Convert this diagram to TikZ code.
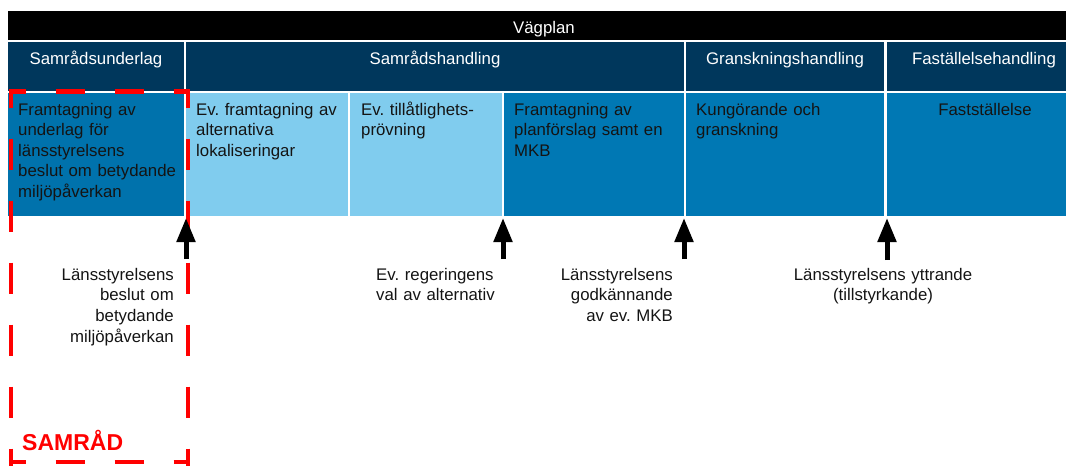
\documentclass[tikz,border=0pt]{standalone}
\usepackage{fontspec}
\setmainfont{Liberation Sans}
\usetikzlibrary{arrows.meta}
\definecolor{navy}{HTML}{00375C}
\definecolor{midblue}{HTML}{0078B4}
\definecolor{darkcell}{HTML}{0072AC}
\definecolor{lightblue}{HTML}{80CCEE}
\definecolor{txt}{HTML}{141414}
\definecolor{samred}{HTML}{FF0000}
\newcommand\blk[6]{\node[box, fill=#6, minimum width={(#4-#2)*1pt}, minimum height={(#5-#3)*1pt}] (#1) at (#2,#3) {};}
\begin{document}
\frenchspacing
\begin{tikzpicture}[x=1pt,y=-1pt,
  box/.style={anchor=north west, inner sep=0pt, outer sep=0pt, draw=none},
  celltext/.style={anchor=base west, inner sep=0pt, text width=#1, align=left, font=\fontsize{16.8}{20.5}\selectfont\frenchspacing, text=txt},
  headtext/.style={anchor=base, inner sep=0pt, text=white, font=\fontsize{16.8}{20.5}\selectfont},
  labtext/.style={inner sep=0pt, text=txt, font=\fontsize{16.8}{20.7}\selectfont\frenchspacing},
  reddash/.style={draw=samred, line width=4.5pt},
  hdash/.style={dash pattern=on 29.5pt off 29.5pt, dash phase=12.25pt},
  vdash/.style={dash pattern=on 31pt off 31pt, dash phase=12.75pt},
  uparrow/.style={line width=5pt, -{Triangle[length=24pt,width=18pt]}}
]
\useasboundingbox (0,0) rectangle (1066,466);
\clip (0,0) rectangle (1066,466);
% top bar
\blk{bar}{8}{11}{1082}{40}{black}
% headers
\blk{h1}{8}{42}{184}{91}{navy}
\blk{h2}{186}{42}{684}{91}{navy}
\blk{h3}{686}{42}{884}{91}{navy}
\blk{h4}{887}{42}{1082}{91}{navy}
% cells
\blk{c1}{8}{93}{184}{216}{darkcell}
\blk{c2}{186}{93}{348}{216}{lightblue}
\blk{c3}{350}{93}{502}{216}{lightblue}
\blk{c4}{504}{93}{684}{216}{midblue}
\blk{c5}{686}{93}{884}{216}{midblue}
\blk{c6}{887}{93}{1082}{216}{midblue}
% header texts
\node[headtext] (vag) at (544,33) {Vägplan};
\node[headtext] (ht1) at (96,64) {Samrådsunderlag};
\node[headtext] (ht2) at (435,64) {Samrådshandling};
\node[headtext] (ht3) at (785,64) {Granskningshandling};
\node[headtext] (ht4) at (984,64) {Faställelsehandling};
% cell texts
\node[celltext=166pt] (t1) at (18,115) {Framtagning av\\underlag för\\länsstyrelsens\\beslut om betydande\\miljöpåverkan};
\node[celltext=150pt] (t2) at (196,115) {Ev. framtagning av\\alternativa\\lokaliseringar};
\node[celltext=140pt] (t3) at (361,115) {Ev. tillåtlighets-\\prövning};
\node[celltext=170pt] (t4) at (514,115) {Framtagning av\\planförslag samt en\\MKB};
\node[celltext=180pt] (t5) at (696,115) {Kungörande och\\granskning};
\node[anchor=base, inner sep=0pt, text=txt, font=\fontsize{16.8}{20.5}\selectfont] (t6) at (985,115) {Fastställelse};
% red dashed frame
\draw[reddash, hdash] (8.75,91.5) -- (190.25,91.5);
\draw[reddash, hdash] (8.75,462) -- (190.25,462);
\draw[reddash, vdash] (11,89.25) -- (11,470);
\draw[reddash, vdash] (188,89.25) -- (188,470);
% arrows
\coordinate (a1t) at (186,218); \coordinate (a1s) at (186,259);
\coordinate (a2t) at (503,218); \coordinate (a2s) at (503,259);
\coordinate (a3t) at (684,218); \coordinate (a3s) at (684,259);
\coordinate (a4t) at (887,218); \coordinate (a4s) at (887,260);
\draw[uparrow] (a1s) -- (a1t);
\draw[uparrow] (a2s) -- (a2t);
\draw[uparrow] (a3s) -- (a3t);
\draw[uparrow] (a4s) -- (a4t);
% labels
\node[labtext, anchor=base east, text width=150pt, align=right] (l1) at (174,280) {Länsstyrelsens\\beslut om\\betydande\\miljöpåverkan};
\node[labtext, anchor=base west, text width=150pt, align=left] (l2) at (376,280) {Ev. regeringens\\val av alternativ};
\node[labtext, anchor=base east, text width=150pt, align=right] (l3) at (673,280) {Länsstyrelsens\\godkännande\\av ev. MKB};
\node[labtext, anchor=base, text width=220pt, align=center] (l4) at (883,280) {Länsstyrelsens yttrande\\(tillstyrkande)};
\node[anchor=base west, inner sep=0pt, text=samred, font=\fontsize{23}{27}\selectfont\bfseries] (samrad) at (22,450) {SAMRÅD};
\end{tikzpicture}
\end{document}
